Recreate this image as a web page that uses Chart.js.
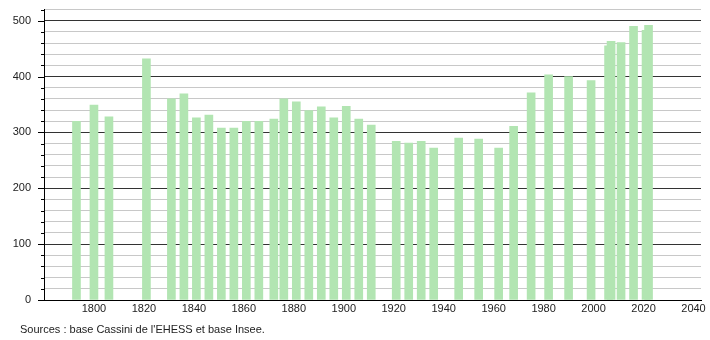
<!DOCTYPE html>
<html>
<head>
<meta charset="utf-8">
<script src="https://cdn.jsdelivr.net/npm/chart.js@4.4.1/dist/chart.umd.min.js"></script>
<style>
  html, body { margin:0; padding:0; background:#fff; overflow:hidden; }
  #wrap { position:relative; width:710px; height:340px; overflow:hidden; }
  #pop { position:absolute; left:0; top:-10px; }
  #src { position:absolute; left:20px; top:323px; font:11px "Liberation Sans", Arial, sans-serif; color:#222; }
</style>
</head>
<body>
<div id="wrap">
  <canvas id="pop" width="710" height="350"></canvas>
  <div id="src">Sources : base Cassini de l'EHESS et base Insee.</div>
</div>
<script>
// ── Data ──────────────────────────────────────────────────
const years = [1793, 1800, 1806, 1821, 1831, 1836, 1841, 1846, 1851, 1856,
               1861, 1866, 1872, 1876, 1881, 1886, 1891, 1896, 1901, 1906,
               1911, 1921, 1926, 1931, 1936, 1946, 1954, 1962, 1968, 1975,
               1982, 1990, 1999, 2006, 2007, 2011, 2016, 2021, 2022];
const population = [320, 349, 328, 432, 360, 369, 326, 331, 308, 308,
                    320, 320, 324, 360, 355, 339, 346, 326, 347, 324,
                    313, 284, 281, 284, 272, 290, 288, 272, 311, 371,
                    403, 400, 393, 455, 463, 461, 490, 483, 492];
const xTicks = [1800, 1820, 1840, 1860, 1880, 1900, 1920, 1940, 1960, 1980, 2000, 2020, 2040];
const yMax = 520;

const FONT = { family: '"Liberation Sans", Arial, sans-serif', size: 11 };

// ── Y tick marks: long at hundreds, short otherwise ───────
const yTickMarks = {
  id: 'yTickMarks',
  afterDraw(chart) {
    const s = chart.scales.y, ctx = chart.ctx, x0 = chart.chartArea.left;
    ctx.save();
    ctx.strokeStyle = '#000';
    ctx.lineWidth = 1;
    for (let v = 0; v <= yMax; v += 20) {
      const y = Math.round(s.getPixelForValue(v)) + 0.5;
      const len = v % 100 === 0 ? 6 : 3;
      ctx.beginPath();
      ctx.moveTo(x0 - len, y);
      ctx.lineTo(x0, y);
      ctx.stroke();
    }
    ctx.restore();
  }
};

new Chart(document.getElementById('pop'), {
  type: 'bar',
  data: {
    datasets: [{
      data: years.map((y, i) => ({ x: y, y: population[i] })),
      backgroundColor: '#b2e5b2',
      borderWidth: 0,
      barThickness: 8
    }]
  },
  options: {
    responsive: false,
    animation: false,
    layout: { autoPadding: false, padding: { top: 10, right: 9, left: 0, bottom: 0 } },
    plugins: { legend: { display: false }, tooltip: { enabled: false } },
    scales: {
      x: {
        type: 'linear',
        offset: false,
        min: 1780, max: 2043,
        afterBuildTicks: s => { s.ticks = xTicks.map(v => ({ value: v })); },
        afterFit: s => { s.height = 40; },
        grid: { display: false, drawTicks: false, offset: false },
        border: { display: true, color: '#000', width: 1 },
        ticks: { font: FONT, color: '#222', padding: 2, maxRotation: 0, autoSkip: false,
                 callback: v => String(v) }
      },
      y: {
        min: 0, max: yMax,
        afterFit: s => { s.width = 44; },
        grid: {
          drawTicks: false,
          color: c => (c.tick.value % 100 === 0 ? '#333' : '#c8c8c8'),
          lineWidth: 1
        },
        border: { display: true, color: '#000', width: 1 },
        ticks: {
          stepSize: 20, font: FONT, color: '#222', padding: 13, autoSkip: false,
          callback: v => (v % 100 === 0 ? String(v) : '')
        }
      }
    }
  },
  plugins: [yTickMarks]
});
</script>
</body>
</html>
